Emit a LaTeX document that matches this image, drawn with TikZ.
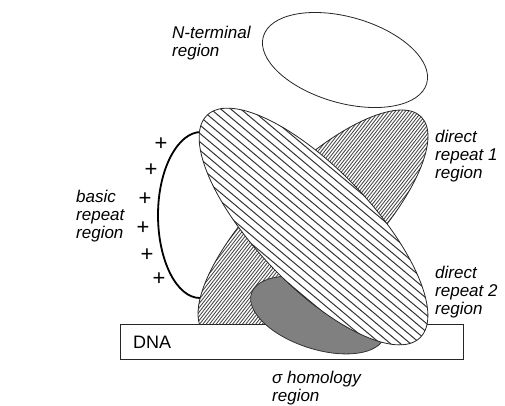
\documentclass[tikz,border=0pt]{standalone}
\usepackage{fontspec}
\setmainfont{Liberation Sans}
\begin{document}
\begin{tikzpicture}[x=1pt,y=-1pt,
  lab/.style={font=\fontsize{17}{17.7}\selectfont\itshape, align=left, anchor=west, inner sep=0pt},
  outl/.style={draw=black!85, line width=0.8pt},
  plussign/.style={font=\fontsize{22}{22}\selectfont, inner sep=0pt},
  dhatch/.style={draw=black!72, line width=0.85pt},
  shatch/.style={draw=black!80, line width=1pt}]
\useasboundingbox (0,0) rectangle (505,405);

% basic repeat arc
\draw[line width=1.8pt] (201,132) .. controls (177.8,132) and (158,169.2) .. (158,215)
      .. controls (158,260.8) and (176.8,298) .. (200,298);

% direct repeat 1 ellipse (dense hatching)
\begin{scope}
  \clip[shift={(313,225)},rotate=45] (0,0) ellipse [x radius=153pt, y radius=55pt];
  \fill[white] (0,0) rectangle (505,405);
  \foreach \k in {0,3.3,...,425} \draw[dhatch] (\k,360) -- ++(281,-360);
\end{scope}
\draw[outl,shift={(313,225)},rotate=45] (0,0) ellipse [x radius=153pt, y radius=55pt];

% DNA
\draw[outl, fill=white] (120,324) rectangle (463,359);
\node[font=\fontsize{18}{18}\selectfont, anchor=west, inner sep=0pt] (dna) at (133,342) {DNA};

% sigma homology ellipse
\draw[draw=black!80, line width=0.8pt, fill=black!50, shift={(318,315)}, rotate=-18]
  (0,0) ellipse [x radius=70pt, y radius=34pt];

% direct repeat 2 ellipse (sparse hatching)
\begin{scope}
  \clip[shift={(313.5,226.5)},rotate=-46.3] (0,0) ellipse [x radius=154pt, y radius=58pt];
  \fill[white] (0,0) rectangle (505,405);
  \foreach \k in {-100,-90,...,425} \draw[shatch] (\k,100) -- ++(310,260);
\end{scope}
\draw[outl,shift={(313.5,226.5)},rotate=-46.3] (0,0) ellipse [x radius=154pt, y radius=58pt];

% N-terminal ellipse
\draw[outl, fill=white, shift={(345,60)}, rotate=-16] (0,0) ellipse [x radius=85pt, y radius=43pt];

% plus signs
\node[plussign] (p1) at (161,144) {+};
\node[plussign] (p2) at (151,170) {+};
\node[plussign] (p3) at (145,199) {+};
\node[plussign] (p4) at (143,228) {+};
\node[plussign] (p5) at (147,255) {+};
\node[plussign] (p6) at (159,279) {+};

% labels
\node[lab] (nterm) at (172,43) {N-terminal\\region};
\node[lab] (basic) at (76,216) {basic\\repeat\\region};
\node[lab] (dr1) at (435,156) {direct\\repeat 1\\region};
\node[lab] (dr2) at (435,292) {direct\\repeat 2\\region};
\node[lab] (sigma) at (272,388) {σ homology\\region};
\end{tikzpicture}
\end{document}
